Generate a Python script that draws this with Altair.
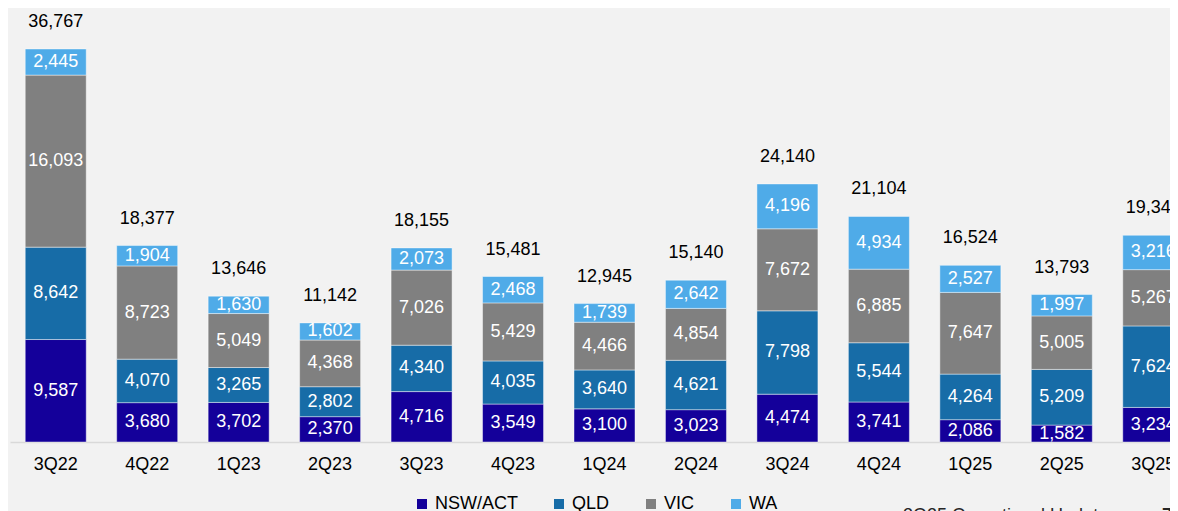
import altair as alt
import pandas as pd

categories = ["3Q22", "4Q22", "1Q23", "2Q23", "3Q23", "4Q23", "1Q24",
              "2Q24", "3Q24", "4Q24", "1Q25", "2Q25", "3Q25"]
series_names = ["NSW/ACT", "QLD", "VIC", "WA"]
nsw = [9587, 3680, 3702, 2370, 4716, 3549, 3100, 3023, 4474, 3741, 2086, 1582, 3234]
qld = [8642, 4070, 3265, 2802, 4340, 4035, 3640, 4621, 7798, 5544, 4264, 5209, 7624]
vic = [16093, 8723, 5049, 4368, 7026, 5429, 4466, 4854, 7672, 6885, 7647, 5005, 5267]
wa = [2445, 1904, 1630, 1602, 2073, 2468, 1739, 2642, 4196, 4934, 2527, 1997, 3216]
totals = [36767, 18377, 13646, 11142, 18155, 15481, 12945, 15140, 24140, 21104, 16524, 13793, 19341]
colors = ["#14009a", "#176ca7", "#808080", "#4fabe8"]

rows = []
for si, (name, vals) in enumerate(zip(series_names, [nsw, qld, vic, wa])):
    for c, v in zip(categories, vals):
        rows.append({"cat": c, "series": name, "value": v, "ord": si})
df = pd.DataFrame(rows)
tot_df = pd.DataFrame({"cat": categories, "total": totals})

FONT = "Liberation Sans"
x_enc = alt.X("cat:N", sort=categories, title=None,
              scale=alt.Scale(range=[0, 1189], paddingInner=0.333, paddingOuter=0.1665),
              axis=alt.Axis(labelAngle=0, ticks=False, domainColor="#d9d9d9",
                            domainWidth=1.5, labelFontSize=18, labelColor="#000000",
                            labelFont=FONT, labelPadding=13))
y_scale = alt.Scale(domain=[0, 40600], nice=False)

base = alt.Chart(df)

bars = base.mark_bar(stroke="#ffffff", strokeWidth=0.8, strokeOpacity=0.55).encode(
    x=x_enc,
    y=alt.Y("value:Q", stack="zero", scale=y_scale, axis=None),
    color=alt.Color("series:N",
                    scale=alt.Scale(domain=series_names, range=colors),
                    legend=alt.Legend(title=None, orient="none", direction="horizontal",
                                      legendX=403, legendY=487, symbolType="square",
                                      symbolSize=100, symbolStrokeWidth=0,
                                      labelFontSize=18, labelFont=FONT,
                                      labelColor="#000000", labelOffset=4,
                                      columnPadding=32, padding=0)),
    order=alt.Order("ord:Q"),
)

seg_labels = base.transform_stack(
    stack="value", groupby=["cat"], as_=["y0", "y1"],
    sort=[alt.SortField("ord", order="ascending")]
).transform_calculate(
    mid="(datum.y0 + datum.y1) / 2"
).mark_text(color="#ffffff", fontSize=18, font=FONT, baseline="middle").encode(
    x=alt.X("cat:N", sort=categories),
    y=alt.Y("mid:Q", scale=y_scale),
    text=alt.Text("value:Q", format=","),
)

tot_labels = alt.Chart(tot_df).mark_text(
    color="#000000", fontSize=18, font=FONT, baseline="middle", dy=-27
).encode(
    x=alt.X("cat:N", sort=categories),
    y=alt.Y("total:Q", scale=y_scale),
    text=alt.Text("total:Q", format=","),
)

footer_df = pd.DataFrame({"t": ["3Q25 Operational Update"]})
footer = alt.Chart(footer_df).mark_text(
    color="#262626", fontSize=18, font=FONT, align="left", baseline="alphabetic"
).encode(x=alt.value(893), y=alt.value(513), text="t:N")
page_df = pd.DataFrame({"t": ["7"]})
page = alt.Chart(page_df).mark_text(
    color="#262626", fontSize=18, font=FONT, align="left", baseline="alphabetic",
    fontWeight="bold"
).encode(x=alt.value(1152), y=alt.value(513), text="t:N")

chart = alt.layer(bars, seg_labels, tot_labels, footer, page).properties(
    width=1160, height=434,
    autosize=alt.AutoSizeParams(type="none"),
    padding={"left": 2, "top": 0, "right": 0, "bottom": 86},
    background="#f2f2f2",
).configure_view(stroke=None)

chart.save("out.html", embed_options={"renderer": "svg", "actions": False})
